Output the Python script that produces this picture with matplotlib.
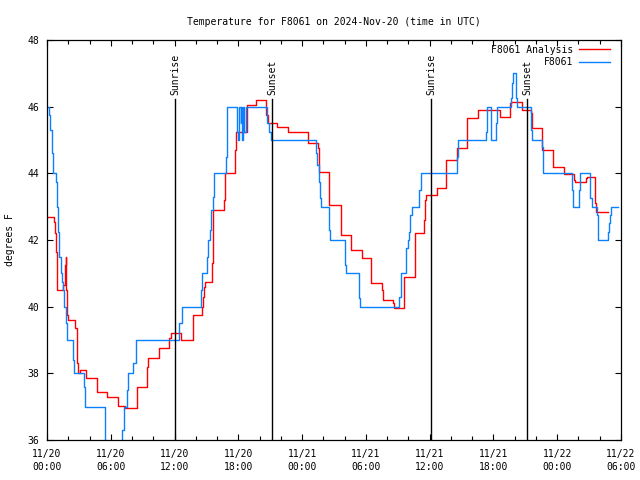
import matplotlib
matplotlib.use('Agg')
import matplotlib.pyplot as plt
import numpy as np

# hours since 2024-11-20 00:00 UTC, value holds until the next time (step post)
obs_hours = [0.00, 0.15, 0.28, 0.47, 0.59, 0.85, 0.97, 1.06, 1.16, 1.29, 1.44, 1.50,
             1.60, 1.79, 1.91, 2.47, 2.57, 3.48, 3.57, 5.46, 7.08, 7.24, 7.55, 7.65,
             8.12, 8.34, 12.45, 12.67, 14.49, 14.61, 15.08, 15.17, 15.33, 15.43, 15.64,
             15.71, 16.81, 16.91, 17.85, 18.00, 18.06, 18.22, 18.28, 18.37, 18.47, 18.56,
             18.69, 20.67, 20.74, 20.91, 21.04, 25.31, 25.43, 25.59, 25.68, 25.78, 26.53,
             26.62, 28.03, 28.13, 29.35, 29.45, 33.14, 33.27, 33.33, 33.74, 33.93, 34.08,
             34.15, 34.31, 35.02, 35.16, 38.54, 38.69, 41.27, 41.39, 41.77, 42.24, 42.30,
             43.62, 43.72, 43.87, 44.09, 44.19, 45.53, 45.65, 46.54, 46.63, 49.36, 49.45,
             49.51, 50.05, 50.14, 51.08, 51.24, 51.71, 51.80, 51.86, 52.80, 52.87, 52.96,
             53.06, 53.69]
obs_temp = [46.0, 45.75, 45.3, 44.6, 44.0, 43.75, 43.0, 42.25, 41.5, 41.0, 40.75, 40.5,
            40.0, 39.5, 39.0, 38.4, 38.0, 37.6, 37.0, 35.0, 36.3, 37.0, 37.5, 38.0,
            38.3, 39.0, 39.5, 40.0, 40.5, 41.0, 41.5, 42.0, 42.3, 42.9, 43.3,
            44.0, 44.5, 46.0, 45.25, 45.0, 46.0, 45.5, 46.0, 45.0, 46.0, 45.25,
            46.0, 45.9, 45.5, 45.25, 45.0, 44.6, 44.25, 43.75, 43.25, 43.0, 42.3,
            42.0, 41.25, 41.0, 40.25, 40.0, 40.3, 40.75, 41.0, 41.75, 42.0, 42.25,
            42.75, 43.0, 43.5, 44.0, 44.5, 45.0, 45.25, 46.0, 45.0, 45.5, 46.0,
            46.25, 46.7, 47.0, 46.25, 46.0, 45.3, 45.0, 44.8, 44.0, 43.5, 43.25,
            43.0, 43.5, 44.0, 43.25, 43.0, 42.75, 42.25, 42.0, 42.25, 42.5, 42.75,
            43.0, 43.0]

ana_hours = [0.00, 0.66, 0.75, 0.85, 0.91, 0.97, 1.53, 1.69, 1.76, 1.82, 1.91, 2.00,
             2.63, 2.79, 2.85, 2.94, 3.10, 3.64, 4.73, 5.67, 6.71, 7.34, 8.49, 9.43,
             9.53, 10.56, 11.50, 11.64, 12.58, 13.76, 14.55, 14.65, 14.77, 14.86, 15.55,
             15.59, 15.64, 16.65, 16.74, 17.69, 17.78, 18.79, 18.84, 19.63, 20.57, 20.82,
             21.61, 22.70, 24.58, 25.47, 25.59, 26.56, 27.63, 28.57, 29.60, 30.45, 31.48,
             31.64, 32.58, 32.67, 33.61, 34.62, 35.47, 35.56, 35.66, 36.66, 37.54, 38.60,
             39.54, 40.52, 42.62, 43.56, 43.65, 44.66, 45.50, 45.60, 46.60, 47.57, 48.64,
             49.58, 49.67, 50.68, 50.77, 51.55, 51.65, 52.75]
ana_temp = [42.7, 42.55, 42.2, 41.65, 40.9, 40.5, 40.65, 41.25, 41.5, 40.5, 39.75, 39.6,
            39.35, 38.95, 38.3, 38.0, 38.1, 37.85, 37.45, 37.3, 37.03, 36.95, 37.6, 38.2,
            38.45, 38.75, 39.05, 39.2, 39.0, 39.75, 40.0, 40.3, 40.6, 40.75, 41.3,
            42.25, 42.9, 43.2, 44.0, 44.7, 45.25, 45.75, 46.05, 46.2, 45.75, 45.5,
            45.38, 45.23, 44.9, 44.75, 44.03, 43.05, 42.15, 41.7, 41.45, 40.7, 40.5,
            40.2, 40.1, 39.95, 40.9, 42.2, 42.6, 43.2, 43.35, 43.55, 44.4, 44.75,
            45.65, 45.9, 45.7, 46.1, 46.15, 45.9, 45.8, 45.35, 44.7, 44.2, 43.97,
            43.8, 43.75, 43.85, 43.9, 43.1, 42.85, 42.85]

sun_hours = [12.04, 21.17, 36.12, 45.16]
sun_labels = ['Sunrise', 'Sunset', 'Sunrise', 'Sunset']

tick_hours = [0, 6, 12, 18, 24, 30, 36, 42, 48, 54]
tick_labels = ['11/20\n00:00', '11/20\n06:00', '11/20\n12:00', '11/20\n18:00',
               '11/21\n00:00', '11/21\n06:00', '11/21\n12:00', '11/21\n18:00',
               '11/22\n00:00', '11/22\n06:00']

plt.rcParams['font.family'] = 'DejaVu Sans Mono'
plt.rcParams['font.size'] = 7

fig = plt.figure(figsize=(6.4, 4.8), dpi=100)
ax = fig.add_axes([47 / 640, 40 / 480, 574 / 640, 400 / 480])

ax.step(ana_hours, ana_temp, where='post', color='#ff0000', lw=1.0, label='F8061 Analysis')
ax.step(obs_hours, obs_temp, where='post', color='#0a80ff', lw=1.0, label='F8061')

for h, lab in zip(sun_hours, sun_labels):
    ax.axvline(h, ymin=0, ymax=0.8525, color='black', lw=1.0)
    ax.text(h, 0.8625, lab, transform=ax.get_xaxis_transform(), rotation=90,
            ha='center', va='bottom', fontsize=7)

ax.set_xlim(0, 54)
ax.set_ylim(36, 48)
ax.set_xticks(tick_hours)
ax.set_xticklabels(tick_labels, linespacing=1.35)
ax.set_xticks(np.arange(0, 55, 2), minor=True)
ax.set_yticks(np.arange(36, 49, 2))
ax.tick_params(which='both', direction='in', top=True, right=True)
ax.tick_params(axis='x', pad=6.5)
ax.tick_params(axis='y', pad=5.5)
ax.tick_params(which='major', length=4.5, width=0.8)
ax.tick_params(which='minor', length=3, width=0.8)
for s in ax.spines.values():
    s.set_linewidth(0.9)

ax.set_ylabel('degrees F', labelpad=9)
ax.set_title('Temperature for F8061 on 2024-Nov-20 (time in UTC)', fontsize=7, pad=11)
ax.legend(loc='upper right', bbox_to_anchor=(0.99, 1.0), frameon=False, markerfirst=False,
          handlelength=3.2, borderaxespad=0.1, labelspacing=0.25, handletextpad=0.6)

fig.savefig('out.png', dpi=100)
